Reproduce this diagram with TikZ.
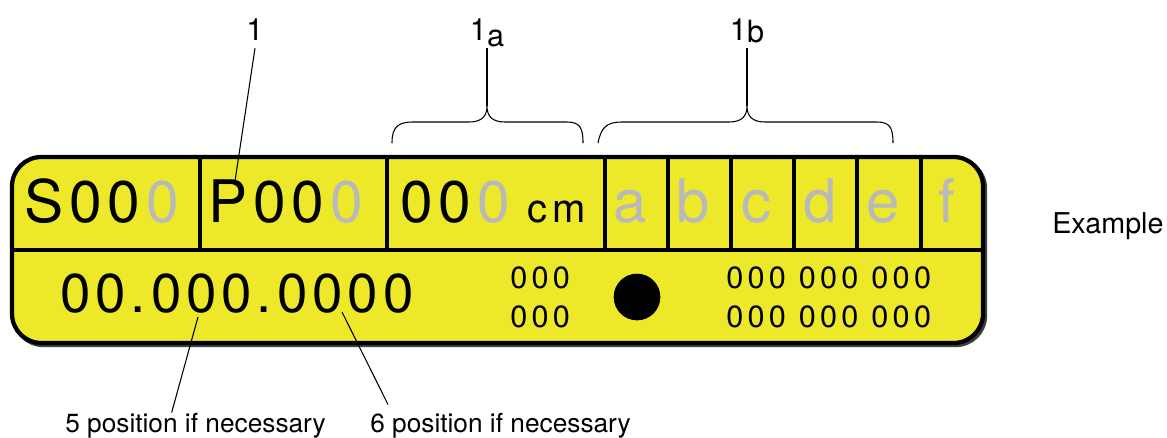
\documentclass[tikz,border=0pt]{standalone}
\usepackage{fontspec}
\setmainfont{TeX Gyre Heros}
\definecolor{lcdyellow}{RGB}{238,232,42}
\definecolor{digitgray}{RGB}{185,185,188}
\newcommand{\gr}[1]{\kern0.1em\textcolor{digitgray}{#1}}

\tikzset{
  lcdframe/.style={draw=black, line width=3.2pt, fill=lcdyellow, rounded corners=22pt},
  cellsep/.style={line width=3.2pt},
  cellbig/.style={anchor=base west, inner sep=0pt, font=\fontsize{44}{50}\selectfont\addfontfeature{LetterSpace=10}},
  cellunit/.style={anchor=base west, inner sep=0pt, font=\fontsize{30}{34}\selectfont\addfontfeature{LetterSpace=12}},
  cellletter/.style={anchor=base, inner sep=0pt, text=digitgray, font=\fontsize{45}{50}\selectfont},
  rowbig/.style={anchor=base west, inner sep=0pt, font=\fontsize{41}{46}\selectfont\addfontfeature{LetterSpace=9}},
  rowsmall/.style={anchor=base west, inner sep=0pt, font=\fontsize{23}{26}\selectfont\addfontfeature{LetterSpace=14}},
  callout/.style={anchor=base, inner xsep=1pt, inner ysep=6pt, font=\fontsize{23}{27}\selectfont},
  note/.style={anchor=base west, inner sep=0pt, font=\fontsize{19.7}{24}\selectfont},
  leader/.style={line width=0.8pt},
}

\begin{document}
\begin{tikzpicture}[x=0.75pt, y=-0.75pt]
    \useasboundingbox (0,0) rectangle (1167,437);

    % Display frame
    \draw[line width=3.2pt, rounded corners=22pt, black!75] (14,159) rectangle (985,345);
    \draw[lcdframe] (12,157) rectangle (983,343);

    % Cell separators
    \draw[cellsep] (12,250) -- (983,250);
    \foreach \x in {200,387,605,668,731,794,857,921}
        \draw[cellsep] (\x,157) -- (\x,250);

    % Upper row
    \node[cellbig] (slot) at (24,222) {S00\gr{0}};
    \node[cellbig] (prog) at (208,222) {P00\gr{0}};
    \node[cellbig] (dist) at (400,222) {00\gr{0}};
    \node[cellunit] (unit) at (527,222) {cm};
    \foreach \l [count=\i] in {a,b,c,d,e,f}
        \node[cellletter] (let\l) at ({630+63.4*(\i-1)},222) {\l};

    % Lower row
    \node[rowbig] (coord) at (60,312) {00.000.0000};
    \node[rowsmall] (cntA) at (510,288) {000};
    \node[rowsmall] (cntB) at (510,327) {000};
    \node[circle, fill=black, minimum size=35pt, inner sep=0pt] (dot) at (637,297) {};
    \node[rowsmall] (grpA) at (726,288) {000 000 000};
    \node[rowsmall] (grpB) at (726,327) {000 000 000};

    % Callouts above
    \node[callout] (lbl1) at (255,40) {1};
    \node[callout] (lblA) at (487,40) {1\raisebox{-4.5pt}[0pt][0pt]{a}};
    \node[callout] (lblB) at (747,40) {1\raisebox{-1.5pt}[0pt][0pt]{b}};

    \coordinate (tipP) at (235,181);
    \coordinate (braceA) at (487,106);
    \coordinate (braceB) at (747,106);
    \draw[leader] (lbl1.south) -- (tipP);
    \draw[leader] (lblA.south) -- (braceA);
    \draw[leader] (lblB.south) -- (braceB);

    % Braces
    \draw[leader] (392,143) .. controls (392,127) and (398,122) .. (413,122) -- (469,122)
        .. controls (482,122) and (487,116) .. (braceA)
        .. controls (487,116) and (492,122) .. (505,122) -- (567,122)
        .. controls (580,122) and (583,128) .. (583,143);
    \draw[leader] (598,143) .. controls (601,128) and (606,122) .. (622,122) -- (729,122)
        .. controls (742,122) and (747,116) .. (braceB)
        .. controls (747,116) and (752,122) .. (765,122) -- (877,122)
        .. controls (890,122) and (893,128) .. (893,143);

    % Notes below
    \node[note] (note5) at (65,432) {5 position if necessary};
    \node[note] (note6) at (370,432) {6 position if necessary};
    \coordinate (dig5) at (198,317);
    \coordinate (dig6) at (342,312);
    \draw[leader] (dig5) -- ([xshift=80pt]note5.north west);
    \draw[leader] (dig6) -- ([xshift=13.5pt,yshift=6pt]note6.north west);

    \node[note, font=\fontsize{21.5}{25}\selectfont] (example) at (1052,233) {Example};
\end{tikzpicture}
\end{document}
